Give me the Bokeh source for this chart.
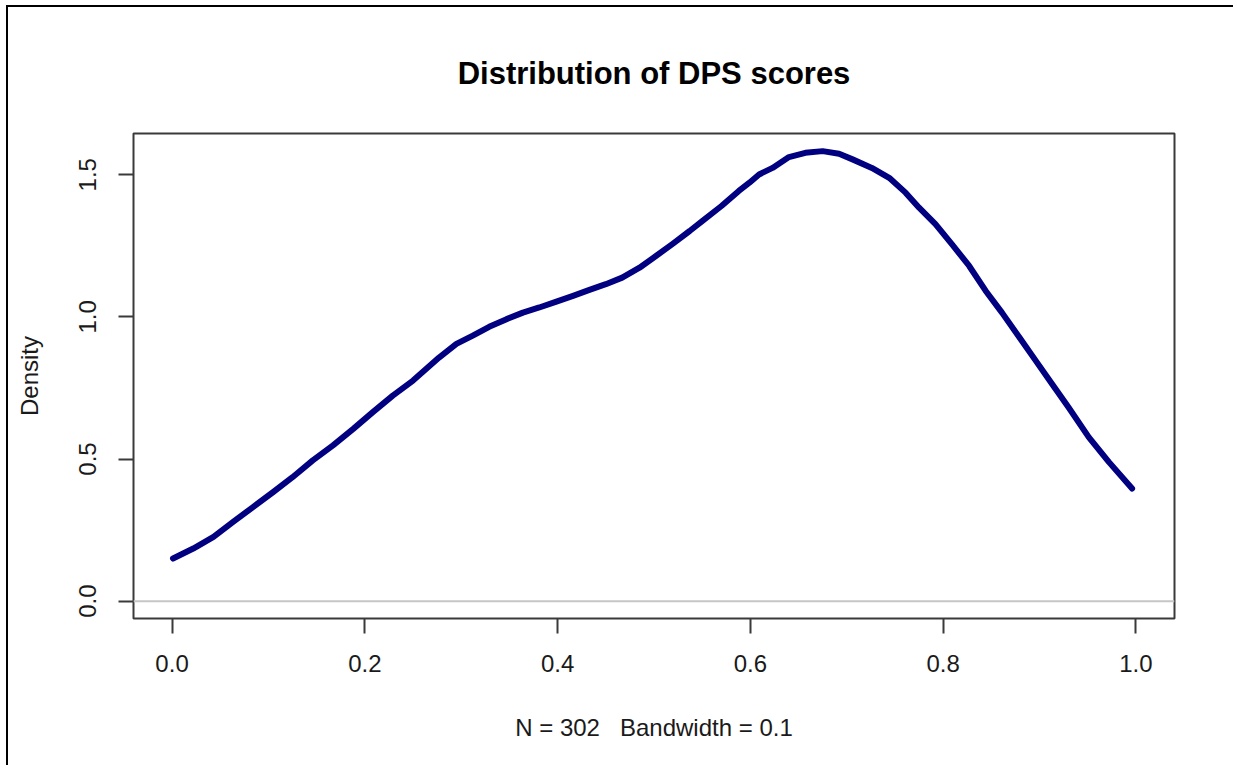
from bokeh.plotting import figure
from bokeh.models import Range1d, FixedTicker, PrintfTickFormatter, Span
from bokeh.embed import file_html
from bokeh.resources import INLINE

# Density curve of DPS scores
dps_x = [0.001, 0.022, 0.043, 0.063, 0.084, 0.105, 0.125, 0.146, 0.167, 0.188,
         0.208, 0.229, 0.250, 0.277, 0.295, 0.312, 0.329, 0.347, 0.364, 0.381,
         0.398, 0.416, 0.433, 0.450, 0.467, 0.485, 0.502, 0.519, 0.537, 0.550,
         0.570, 0.588, 0.599, 0.609, 0.623, 0.640, 0.657, 0.675, 0.692, 0.706,
         0.726, 0.744, 0.761, 0.775, 0.792, 0.809, 0.827, 0.844, 0.861, 0.879,
         0.896, 0.913, 0.930, 0.951, 0.972, 0.996]
dps_density = [0.150, 0.185, 0.226, 0.278, 0.331, 0.384, 0.436, 0.495, 0.548, 0.606,
               0.664, 0.723, 0.776, 0.857, 0.905, 0.934, 0.965, 0.992, 1.015, 1.033,
               1.053, 1.074, 1.095, 1.115, 1.138, 1.173, 1.214, 1.256, 1.302, 1.337,
               1.390, 1.443, 1.472, 1.501, 1.524, 1.562, 1.577, 1.583, 1.574, 1.554,
               1.524, 1.489, 1.437, 1.384, 1.326, 1.256, 1.179, 1.092, 1.015, 0.928,
               0.846, 0.764, 0.682, 0.577, 0.489, 0.396]
x_ticks = [0.0, 0.2, 0.4, 0.6, 0.8, 1.0]
y_ticks = [0.0, 0.5, 1.0, 1.5]

title_text = "Distribution of DPS scores"
x_label = "N = 302\u00a0\u00a0 Bandwidth = 0.1"
y_label = "Density"

FONT = "Liberation Sans"

p = figure(width=1227, height=760, output_backend="svg", toolbar_location=None,
           x_range=Range1d(-0.04, 1.04), y_range=Range1d(-0.061, 1.645),
           min_border_left=125, min_border_right=61, min_border_top=126,
           min_border_bottom=149, title=title_text)
p.styles = {"margin-left": "6px", "margin-top": "5px",
            "border-left": "2px solid black", "border-top": "2px solid black"}

p.title.align = "center"
p.title.text_font = FONT
p.title.text_font_size = "31px"
p.title.text_font_style = "bold"
p.title.text_color = "black"
p.title.text_line_height = 0.8
p.title.standoff = 86

p.xgrid.visible = False
p.ygrid.visible = False
p.outline_line_color = "#3a3a3a"
p.outline_line_width = 2
p.background_fill_color = "white"
p.border_fill_color = "white"

for ax in (p.xaxis[0], p.yaxis[0]):
    ax.axis_line_color = None
    ax.major_tick_in = 0
    ax.major_tick_out = 15
    ax.major_tick_line_color = "#3a3a3a"
    ax.major_tick_line_width = 2
    ax.minor_tick_line_color = None
    ax.major_label_text_font = FONT
    ax.major_label_text_font_size = "24px"
    ax.major_label_text_color = "#1a1a1a"
    ax.axis_label_text_font = FONT
    ax.axis_label_text_font_size = "24px"
    ax.axis_label_text_font_style = "normal"
    ax.axis_label_text_color = "#1a1a1a"
    ax.formatter = PrintfTickFormatter(format="%.1f")

p.xaxis[0].ticker = FixedTicker(ticks=x_ticks)
p.yaxis[0].ticker = FixedTicker(ticks=y_ticks)
p.xaxis[0].axis_label = x_label
p.yaxis[0].axis_label = y_label
p.xaxis[0].major_label_standoff = 21
p.xaxis[0].axis_label_standoff = 39
p.yaxis[0].major_label_orientation = "vertical"
p.yaxis[0].major_label_standoff = 22
p.yaxis[0].axis_label_standoff = 34

p.add_layout(Span(location=0, dimension="width", line_color="#c6c6c6", line_width=2))

p.line(dps_x, dps_density, line_color="#000080", line_width=6,
       line_join="round", line_cap="round")

open("out.html", "w").write(file_html(p, INLINE))
